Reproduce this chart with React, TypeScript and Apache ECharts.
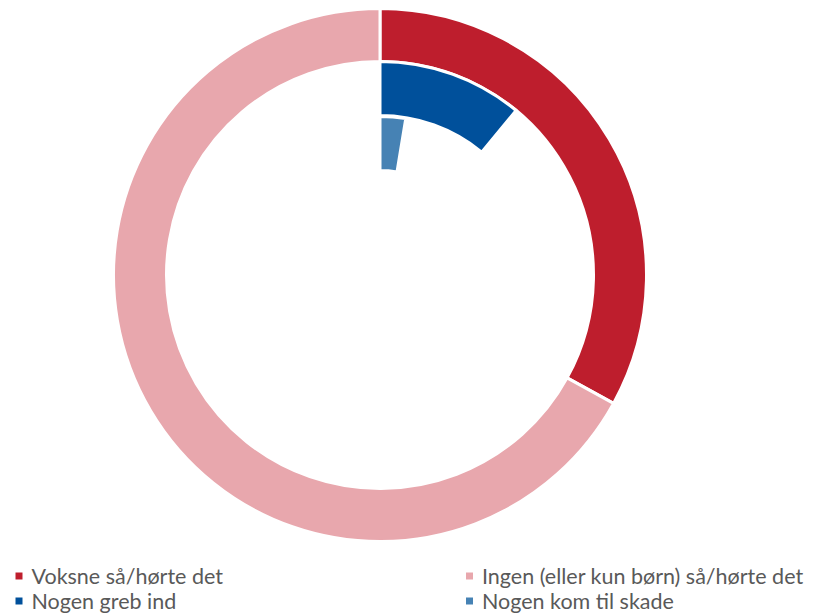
import React, { useEffect, useRef } from "react";
import * as echarts from "echarts";

const outerNames = ["Voksne så/hørte det", "Ingen (eller kun børn) så/hørte det"];
const outerValues = [33, 67];
const middleName = "Nogen greb ind";
const middleValue = 11;
const innerName = "Nogen kom til skade";
const innerValue = 2.6;
const total = 100;

const colors = {
  red: "#BE1E2D",
  pink: "#E8A7AD",
  blue: "#00509B",
  lightBlue: "#4682B4",
};

export default function App() {
  const ref = useRef<HTMLDivElement>(null);
  useEffect(() => {
    document.body.style.margin = "0";
    const chart = echarts.init(ref.current!, null, { renderer: "svg" });
    const font = "Lato, 'Open Sans', sans-serif";
    const border = { borderColor: "#ffffff", borderWidth: 3 };
    const filler = (name: string, v: number) => ({
      name,
      value: v,
      itemStyle: { color: "rgba(0,0,0,0)", borderWidth: 0 },
      emphasis: { disabled: true },
      tooltip: { show: false },
    });
    const legendCommon = {
      orient: "horizontal" as const,
      icon: "rect",
      itemWidth: 9,
      itemHeight: 9,
      padding: 0,
      selectedMode: false,
      height: 22,
      textStyle: {
        fontFamily: font,
        fontSize: 21.5,
        lineHeight: 22,
        color: "#595959",
        padding: [0, 0, 0, 3],
      },
    };
    chart.setOption({
      animation: false,
      color: [colors.red, colors.pink, colors.blue, colors.lightBlue],
      legend: [
        { ...legendCommon, left: 13.5, top: 565, data: [outerNames[0]] },
        { ...legendCommon, left: 13.5, top: 590, data: [middleName] },
        { ...legendCommon, left: 464, top: 565, data: [outerNames[1]] },
        { ...legendCommon, left: 464, top: 590, data: [innerName] },
      ],
      series: [
        {
          type: "pie",
          center: [380, 275],
          radius: [213.5, 266.5],
          startAngle: 90,
          clockwise: true,
          label: { show: false },
          labelLine: { show: false },
          silent: true,
          itemStyle: border,
          data: [
            { name: outerNames[0], value: outerValues[0], itemStyle: { color: colors.red } },
            { name: outerNames[1], value: outerValues[1], itemStyle: { color: colors.pink } },
          ],
        },
        {
          type: "pie",
          center: [380, 275],
          radius: [159.5, 213.5],
          startAngle: 90,
          clockwise: true,
          label: { show: false },
          labelLine: { show: false },
          silent: true,
          itemStyle: border,
          data: [
            { name: middleName, value: middleValue, itemStyle: { color: colors.blue } },
            filler("rest-middle", total - middleValue),
          ],
        },
        {
          type: "pie",
          center: [380, 275],
          radius: [104.5, 158.5],
          startAngle: 90,
          clockwise: true,
          label: { show: false },
          labelLine: { show: false },
          silent: true,
          itemStyle: border,
          data: [
            { name: innerName, value: innerValue, itemStyle: { color: colors.lightBlue } },
            filler("rest-inner", total - innerValue),
          ],
        },
      ],
    });
    return () => chart.dispose();
  }, []);
  return <div ref={ref} style={{ width: 823, height: 615 }} />;
}
